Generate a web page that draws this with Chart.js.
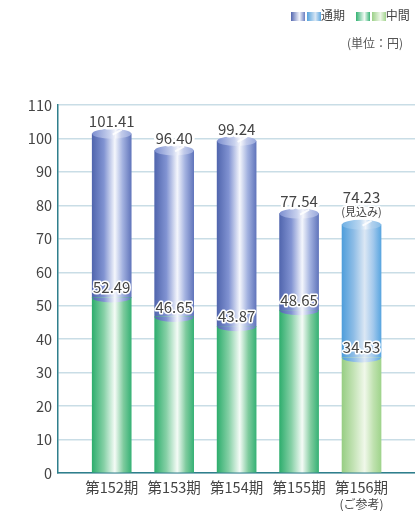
<!DOCTYPE html>
<html lang="ja">
<head>
<meta charset="utf-8">
<script src="https://cdn.jsdelivr.net/npm/chart.js@4.4.1/dist/chart.umd.min.js"></script>
<style>
    body { margin: 0; background: #fff; font-family: 'Noto Sans CJK JP', sans-serif; color: #444; }
    #wrap { position: relative; width: 415px; height: 511px; }
    #legend { position: absolute; top: 8px; left: 291px; font-size: 12px; line-height: 14px; white-space: nowrap; }
    #legend .sw { display: inline-block; width: 14px; height: 9px; vertical-align: -1px; }
    #legend .gap { display: inline-block; width: 2px; }
    #unit { position: absolute; top: 34px; left: 347px; font-size: 12px; color: #555; }
</style>
</head>
<body>
<div id="wrap">
    <canvas id="chartDividendos" width="415" height="511"></canvas>
    <div id="legend">
        <span class="sw" style="background:linear-gradient(90deg,#5468b0,#f2f4fb 60%,#6a7ec0)"></span><span class="gap"></span><span class="sw" style="background:linear-gradient(90deg,#55a2dc,#d8e6f4 60%,#5ca6e0)"></span>通期
        <span style="display:inline-block;width:8px"></span><span class="sw" style="background:linear-gradient(90deg,#33b272,#f2faf4 60%,#3ab478)"></span><span class="gap"></span><span class="sw" style="background:linear-gradient(90deg,#9cd088,#eef7e8 60%,#a2d48e)"></span>中間
    </div>
    <div id="unit">(単位：円)</div>
</div>
<script>
// Datos del grafico
const periodos = ['第152期', '第153期', '第154期', '第155期', '第156期'];
const dividendoAnual = [101.41, 96.40, 99.24, 77.54, 74.23];
const dividendoInterino = [52.49, 46.65, 43.87, 48.65, 34.53];
const yTicks = [0, 10, 20, 30, 40, 50, 60, 70, 80, 90, 100, 110];
const notaPrevision = '(見込み)';
const notaReferencia = '(ご参考)';

const FONT = "'Noto Sans CJK JP', sans-serif";
const BAR_W = 39;
const RY = 5;

/**
 * Paletas de degradado (la ultima barra es de referencia, tonos claros)
 */
const paletas = {
    azul: [[0, '#5166ae'], [0.3, '#8193d2'], [0.58, '#f4f6fc'], [0.78, '#a3b2e0'], [1, '#6276bc']],
    verde: [[0, '#2fae6e'], [0.3, '#86d0a6'], [0.58, '#f4fbf6'], [0.8, '#7fcb9e'], [1, '#38b276']],
    azulClaro: [[0, '#4f9edb'], [0.3, '#8fbde6'], [0.58, '#dbe7f4'], [0.8, '#a2c8ec'], [1, '#5aa6e0']],
    verdeClaro: [[0, '#98ce84'], [0.3, '#c4e3b6'], [0.58, '#f0f8ea'], [0.8, '#c0e2b0'], [1, '#a0d48c']],
    tapa: [[0, '#7d8fd0'], [0.45, '#c9d2ee'], [0.6, '#f6f7fc'], [0.75, '#c2cbea'], [1, '#98a8dc']],
    tapaClara: [[0, '#6fb0e4'], [0.45, '#b9d6f0'], [0.6, '#eef4fb'], [0.75, '#b4d2ee'], [1, '#88bde8']]
};

function makeGrad(ctx, x0, x1, stops) {
    const g = ctx.createLinearGradient(x0, 0, x1, 0);
    stops.forEach(s => g.addColorStop(s[0], s[1]));
    return g;
}

function barFill(c, nombre, nombreClaro) {
    const chart = c.chart;
    if (!chart.chartArea) return '#888';
    const x = chart.scales.x.getPixelForValue(c.dataIndex);
    const esRef = c.dataIndex === periodos.length - 1;
    return makeGrad(chart.ctx, x - BAR_W / 2, x + BAR_W / 2, paletas[esRef ? nombreClaro : nombre]);
}

/**
 * Plugin: tapas elipticas de los cilindros
 */
const cilindros = {
    id: 'cilindros',
    afterDatasetsDraw(chart) {
        const ctx = chart.ctx;
        const meta = chart.getDatasetMeta(1);
        meta.data.forEach((el, i) => {
            const esRef = i === periodos.length - 1;
            const x0 = el.x - el.width / 2, x1 = el.x + el.width / 2;
            ctx.save();
            // parte inferior del segmento azul (curva sobre el verde)
            ctx.beginPath();
            ctx.ellipse(el.x, el.base, el.width / 2, RY, 0, 0, Math.PI);
            ctx.closePath();
            ctx.fillStyle = makeGrad(ctx, x0, x1, paletas[esRef ? 'azulClaro' : 'azul']);
            ctx.fill();
            // tapa superior
            ctx.beginPath();
            ctx.ellipse(el.x, el.y, el.width / 2, RY, 0, 0, Math.PI * 2);
            ctx.fillStyle = makeGrad(ctx, x0, x1, paletas[esRef ? 'tapaClara' : 'tapa']);
            ctx.fill();
            // brillo diagonal
            ctx.beginPath();
            ctx.moveTo(el.x + 1, el.y + 1);
            ctx.lineTo(el.x + 10, el.y - 4);
            ctx.strokeStyle = 'rgba(255,255,255,0.85)';
            ctx.lineWidth = 2;
            ctx.stroke();
            ctx.restore();
        });
    },
    afterDraw(chart) {
        const ctx = chart.ctx;
        const y = chart.scales.y;
        const x = chart.scales.x;
        const last = periodos.length - 1;
        ctx.save();
        ctx.textAlign = 'center';
        ctx.textBaseline = 'middle';
        ctx.lineJoin = 'round';
        ctx.font = `15px ${FONT}`;
        periodos.forEach((p, i) => {
            const cx = x.getPixelForValue(i);
            // valor anual (el de prevision sube para dejar sitio a la nota)
            const ty = y.getPixelForValue(dividendoAnual[i]) - (i === last ? 27 : 12);
            ctx.strokeStyle = '#fff';
            ctx.lineWidth = 5;
            ctx.strokeText(dividendoAnual[i].toFixed(2), cx, ty);
            ctx.fillStyle = '#444';
            ctx.fillText(dividendoAnual[i].toFixed(2), cx, ty);
            // valor interino
            const my = y.getPixelForValue(dividendoInterino[i]) - 10;
            ctx.lineWidth = 3;
            ctx.strokeText(dividendoInterino[i].toFixed(2), cx, my);
            ctx.fillText(dividendoInterino[i].toFixed(2), cx, my);
        });
        ctx.font = `11px ${FONT}`;
        ctx.fillStyle = '#444';
        ctx.strokeText(notaPrevision, x.getPixelForValue(last), y.getPixelForValue(dividendoAnual[last]) - 13);
        ctx.fillText(notaPrevision, x.getPixelForValue(last), y.getPixelForValue(dividendoAnual[last]) - 13);
        ctx.font = `12px ${FONT}`;
        ctx.fillText(notaReferencia, x.getPixelForValue(last), 504);
        ctx.restore();
    }
};

new Chart(document.getElementById('chartDividendos').getContext('2d'), {
    type: 'bar',
    data: {
        labels: periodos.map((_, i) => i),
        datasets: [
            {
                label: '中間',
                data: dividendoInterino,
                backgroundColor: c => barFill(c, 'verde', 'verdeClaro'),
                barThickness: BAR_W,
                grouped: false,
                borderWidth: 0
            },
            {
                label: '通期',
                data: periodos.map((_, i) => [dividendoInterino[i], dividendoAnual[i]]),
                backgroundColor: c => barFill(c, 'azul', 'azulClaro'),
                barThickness: BAR_W,
                grouped: false,
                borderWidth: 0,
                borderSkipped: false
            }
        ]
    },
    options: {
        responsive: false,
        animation: false,
        layout: { padding: { top: 105, right: 0, left: 0, bottom: 0 } },
        plugins: { legend: { display: false }, tooltip: { enabled: false } },
        scales: {
            x: {
                type: 'linear',
                min: -0.86,
                max: 4.856,
                offset: false,
                grid: { display: false, drawTicks: false },
                border: { color: '#2f7f8c', width: 1.5 },
                afterBuildTicks: scale => { scale.ticks = periodos.map((_, i) => ({ value: i })); },
                afterFit: scale => { scale.height = 38; },
                ticks: {
                    autoSkip: false,
                    maxRotation: 0,
                    padding: 6,
                    color: '#444',
                    font: { family: FONT, size: 14.5 },
                    callback: v => periodos[v]
                }
            },
            y: {
                min: 0,
                max: 110,
                grid: { color: '#c9dde6', lineWidth: 1.5, drawTicks: false },
                border: { color: '#2f7f8c', width: 1.5 },
                afterBuildTicks: scale => { scale.ticks = yTicks.map(v => ({ value: v })); },
                afterFit: scale => { scale.width = 58; },
                ticks: {
                    padding: 6,
                    color: '#444',
                    font: { family: FONT, size: 14.5 }
                }
            }
        }
    },
    plugins: [cilindros]
});
</script>
</body>
</html>
